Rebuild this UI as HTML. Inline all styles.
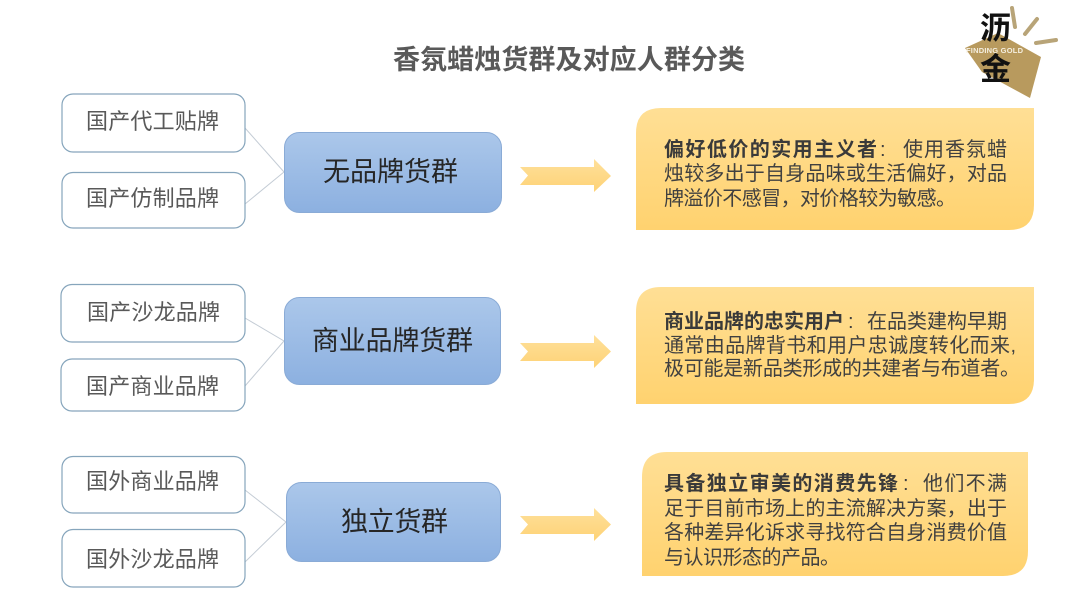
<!DOCTYPE html>
<html><head><meta charset="utf-8">
<style>
html,body{margin:0;padding:0;background:#fff;width:1080px;height:608px;overflow:hidden}
svg{display:block;font-family:"Liberation Sans","Noto Sans CJK SC",sans-serif;filter:blur(.3px)}
.l{font-size:22px;fill:#595959}
.b{font-size:27px;fill:#262626}
.y{font-size:20px;fill:#404040}
.s{font-weight:700;fill:#3a3a3a}
</style></head><body>
<svg width="1080" height="608" viewBox="0 0 1080 608" xmlns="http://www.w3.org/2000/svg">
<defs>
<linearGradient id="bl" x1="0" y1="0" x2="0" y2="1"><stop offset="0" stop-color="#abc7ea"/><stop offset="1" stop-color="#8cb0e0"/></linearGradient>
<linearGradient id="ye" x1="0" y1="0" x2="0" y2="1"><stop offset="0" stop-color="#ffdf95"/><stop offset="1" stop-color="#ffd26f"/></linearGradient>
<linearGradient id="ar" x1="0" y1="0" x2="0" y2="1"><stop offset="0" stop-color="#ffe09a"/><stop offset="1" stop-color="#fdd276"/></linearGradient>
</defs>
<rect width="1080" height="608" fill="#fff"/>
<text x="393" y="69" font-size="27" font-weight="700" fill="#595959" textLength="352" lengthAdjust="spacing">香氛蜡烛货群及对应人群分类</text>

<!-- logo -->
<polygon points="965,48 998,33 1041,57 1030,98 982,72" fill="#b89a5e"/>
<g stroke="#b8a478" stroke-width="4" stroke-linecap="round" fill="none">
<line x1="1012" y1="8" x2="1015" y2="27"/><line x1="1037" y1="19" x2="1025" y2="34"/><line x1="1036" y1="43" x2="1056" y2="40"/>
</g>
<text x="980" y="39" font-size="31" font-weight="700" fill="#111">沥</text>
<text x="980" y="80" font-size="31" font-weight="700" fill="#111">金</text>
<text x="966" y="53" font-size="7.5" font-weight="700" fill="#f5efe0" textLength="57">FINDING GOLD</text>

<!-- connectors -->
<g stroke="#c4ccd5" stroke-width="1" fill="none">
<polyline points="245,128 284,172 245,204"/>
<polyline points="245,318 284,341 245,386"/>
<polyline points="245,490 286,522 245,562"/>
</g>

<!-- left boxes -->
<g fill="#fff" stroke="#86a5bc" stroke-width="1.2">
<rect x="62" y="94" width="183" height="58" rx="11"/>
<rect x="62" y="172.500" width="183" height="55.500" rx="11"/>
<rect x="61" y="284.500" width="184" height="57.500" rx="11"/>
<rect x="61" y="359" width="184" height="52" rx="11"/>
<rect x="62" y="456.500" width="183" height="56.500" rx="11"/>
<rect x="62" y="529.500" width="183" height="57.500" rx="11"/>
</g>
<text class="l" x="86" y="129" textLength="133">国产代工贴牌</text>
<text class="l" x="86" y="206" textLength="133">国产仿制品牌</text>
<text class="l" x="87" y="320" textLength="133">国产沙龙品牌</text>
<text class="l" x="86" y="394" textLength="133">国产商业品牌</text>
<text class="l" x="86" y="489" textLength="133">国外商业品牌</text>
<text class="l" x="86" y="567" textLength="133">国外沙龙品牌</text>

<!-- blue boxes -->
<g fill="url(#bl)" stroke="#8aabd6" stroke-width="1">
<rect x="284.500" y="132.500" width="217" height="80" rx="15"/>
<rect x="284.500" y="297.500" width="216" height="87" rx="15"/>
<rect x="286.500" y="482.500" width="214" height="79" rx="15"/>
</g>
<text class="b" x="323" y="181" textLength="135">无品牌货群</text>
<text class="b" x="312" y="350" textLength="161">商业品牌货群</text>
<text class="b" x="341" y="531" textLength="107">独立货群</text>

<!-- arrows -->
<g fill="url(#ar)">
<polygon points="520,167 594,167 594,159 611,176 594,192 594,185 520,185 528,175.500"/>
<polygon points="520,343 594,343 594,335 611,351.500 594,368 594,361 520,361 528,351.500"/>
<polygon points="520,516 594,516 594,508 611,524.500 594,541 594,534 520,534 528,524.500"/>
</g>

<!-- yellow boxes -->
<path d="M636,230V133Q636,108 661,108H1034V205Q1034,230 1009,230Z" fill="url(#ye)"/>
<path d="M636,404V312Q636,287 661,287H1034V379Q1034,404 1009,404Z" fill="url(#ye)"/>
<path d="M642,576V477Q642,452 667,452H1028V551Q1028,576 1003,576Z" fill="url(#ye)"/>

<text class="y s" x="664" y="156" textLength="213">偏好低价的实用主义者</text>
<text class="y" x="880" y="156">:</text>
<text class="y" x="903" y="156" textLength="104">使用香氛蜡</text>
<text class="y" x="664" y="180" textLength="343">烛较多出于自身品味或生活偏好，对品</text>
<text class="y" x="664" y="205" textLength="292">牌溢价不感冒，对价格较为敏感。</text>

<text class="y s" x="664" y="328" textLength="180">商业品牌的忠实用户</text>
<text class="y" x="848" y="328">:</text>
<text class="y" x="867" y="328" textLength="140">在品类建构早期</text>
<text class="y" x="664" y="352" textLength="352">通常由品牌背书和用户忠诚度转化而来,</text>
<text class="y" x="664" y="375" textLength="356">极可能是新品类形成的共建者与布道者。</text>

<text class="y s" x="664" y="490" textLength="234">具备独立审美的消费先锋</text>
<text class="y" x="903" y="490">:</text>
<text class="y" x="923" y="490" textLength="84">他们不满</text>
<text class="y" x="664" y="515" textLength="343">足于目前市场上的主流解决方案，出于</text>
<text class="y" x="664" y="539" textLength="343">各种差异化诉求寻找符合自身消费价值</text>
<text class="y" x="664" y="564" textLength="176">与认识形态的产品。</text>
</svg>
</body></html>
